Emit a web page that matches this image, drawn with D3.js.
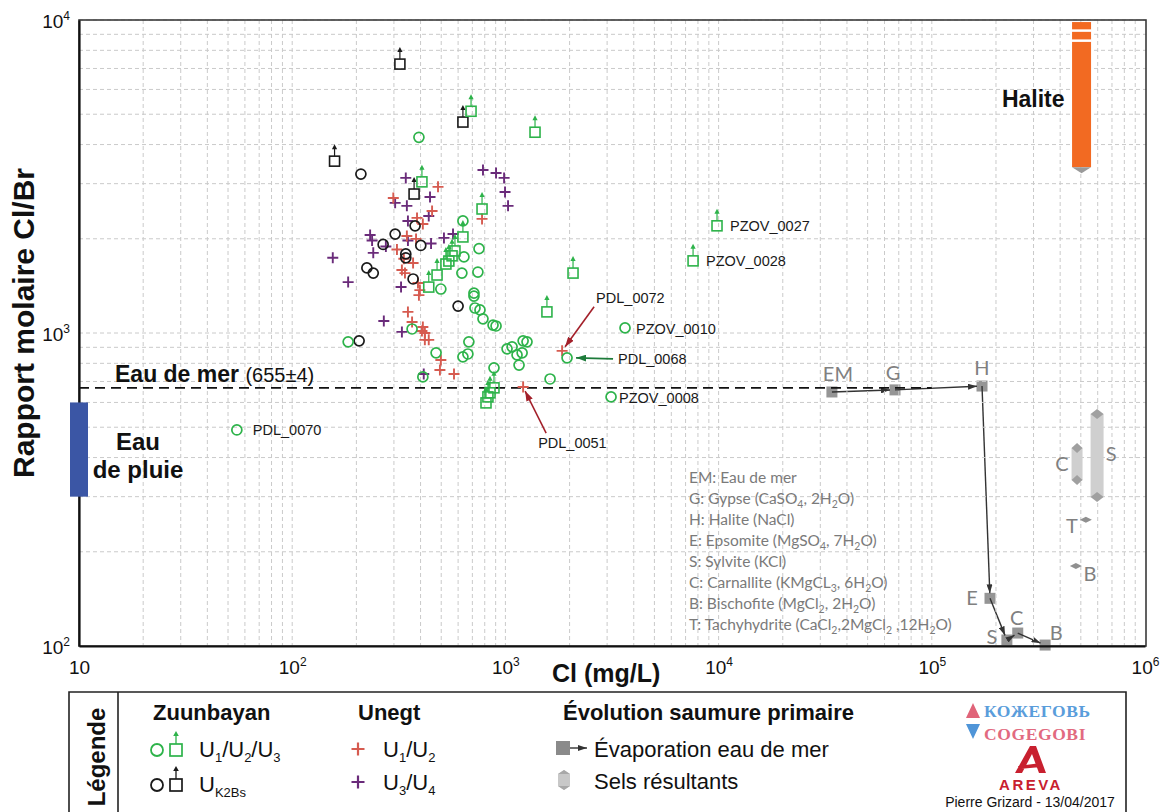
<!DOCTYPE html>
<html><head><meta charset="utf-8">
<script src="https://cdn.jsdelivr.net/npm/d3@7"></script>
<style>body{margin:0;background:#fff}svg{display:block}</style>
</head><body>
<svg id="c" width="1176" height="812"></svg>
<script>
// ---------- DATA (Cl mg/L, molar Cl/Br) ----------
const zuunCircles = [[393,4220],[632,2280],[752,1860],[639,1750],[625,1554],[743,1566],[498,1382],[712,1341],[712,1312],[720,1202],[760,1185],[785,1110],[875,1060],[904,1053],[365,1030],[674,937],[473,864],[632,839],[667,857],[884,774],[410,724],[1018,890],[1075,903],[1211,944],[1263,937],[1134,851],[1198,864],[1159,790],[1620,713],[183,937],[55,490],[1946,833],[3640,1038],[3130,625]];
const zuunSquares = [[690,5110],[1377,4380],[406,3040],[777,2490],[632,2027],[580,1829],[562,1764],[543,1698],[526,1661],[478,1532],[437,1402],[2076,1554],[1566,1168],[884,668],[847,644],[828,625],[811,598],[9830,2200],[7590,1700]];
const k2bsCircles = [[210,3220],[377,2200],[304,2070],[267,1918],[401,1904],[341,1789],[341,1739],[224,1614],[240,1554],[369,1488],[600,1219],[206,944]];
const k2bsSquares = [[320,7230],[158,3540],[632,4720],[373,2780]];
const unegtU12 = [[483,2930],[298,2700],[777,2315],[453,2454],[385,2332],[410,2230],[345,2042],[381,1998],[310,1849],[334,1726],[369,1674],[327,1589],[338,1554],[389,1444],[397,1371],[393,1321],[349,1168],[365,1084],[410,1045],[406,1015],[419,1000],[419,951],[437,951],[498,820],[493,762],[574,740],[1845,877],[1211,672]];
const unegtU34 = [[341,3130],[785,3317],[904,3245],[986,3130],[996,2820],[1029,2548],[304,2605],[345,2548],[443,2719],[437,2365],[349,2280],[232,2057],[237,1975],[349,1975],[448,1932],[515,2013],[568,2072],[275,1890],[155,1739],[240,1803],[183,1454],[324,1402],[269,1092],[327,1008],[414,740]];
const namedNames = ["PZOV_0027","PZOV_0028","PZOV_0010","PZOV_0008","PDL_0068","PDL_0070","PDL_0072","PDL_0051"];
const namedCl    = [9830,7590,3640,3130,1946,55,1845,1211];
const namedRatio = [2200,1700,1038,625,833,490,877,672];
const seaWater = 668;
const rainRange = [300,600];
const haliteRange = [3388,9850];
const evoNames = ["EM","G","H","E","S","C","B"];
const evoCl    = [34000,67200,172000,187500,225000,253000,340000];
const evoRatio = [648,658,677,142,104.5,110,100.7];
const saltNames = ["C","S","T","B"];
const saltCl    = [480000,596000,528000,474000];
const saltLow   = [339,299,253,180];
const saltHigh  = [429,551,253,180];
const xTicks = [10,100,1000,10000,100000,1000000];
const yTicks = [100,1000,10000];
const evoLegend = [
  [["EM: Eau de mer"]],
  [["G: Gypse (CaSO"],["4",1],[", 2H"],["2",1],["O)"]],
  [["H: Halite (NaCl)"]],
  [["E: Epsomite (MgSO"],["4",1],[", 7H"],["2",1],["O)"]],
  [["S: Sylvite (KCl)"]],
  [["C: Carnallite (KMgCL"],["3",1],[", 6H"],["2",1],["O)"]],
  [["B: Bischofite (MgCl"],["2",1],[", 2H"],["2",1],["O)"]],
  [["T: Tachyhydrite (CaCl"],["2",1],[",2MgCl"],["2",1],[" ,12H"],["2",1],["O)"]]
];

// ---------- SETUP ----------
const F = "'Liberation Sans', Arial, sans-serif";
const FM = "Lato, 'Open Sans', sans-serif";
const GREEN="#2db34a", RED="#d65b50", PURPLE="#6a2b7a", BLK="#1a1a1a", GRAY="#8a8a8a";
const svg = d3.select("#c").attr("font-family",F);
const x = d3.scaleLog().domain([10,1e6]).range([79,1145]);
const y = d3.scaleLog().domain([100,1e4]).range([646,20]);

const defs = svg.append("defs");
function marker(id,color,w,h){
  defs.append("marker").attr("id",id).attr("viewBox",`0 0 ${w} ${h}`).attr("refX",w).attr("refY",h/2)
    .attr("markerWidth",w).attr("markerHeight",h).attr("markerUnits","userSpaceOnUse").attr("orient","auto")
    .append("path").attr("d",`M0,0L${w},${h/2}L0,${h}Z`).attr("fill",color);
}
marker("arD","#333",9,6); marker("arR","#a3202a",10,7); marker("arG","#1d7b3a",10,7);

// ---------- GRID ----------
const gx=[],gy=[];
for(let e=1;e<6;e++) for(let k=1;k<10;k++){ const v=k*Math.pow(10,e); if(v>10) gx.push(v); }
for(let e=2;e<4;e++) for(let k=1;k<10;k++){ const v=k*Math.pow(10,e); if(v>100) gy.push(v); }
gy.push(1e4);
const grid = svg.append("g").attr("stroke","#cacaca").attr("stroke-width",1).attr("stroke-dasharray","4,3");
grid.selectAll(null).data(gx).join("line").attr("x1",d=>x(d)).attr("x2",d=>x(d)).attr("y1",20).attr("y2",646);
grid.selectAll(null).data(gy).join("line").attr("y1",d=>y(d)).attr("y2",d=>y(d)).attr("x1",79).attr("x2",1146);

// frame
svg.append("rect").attr("x",79).attr("y",20).attr("width",1067).attr("height",626).attr("fill","none").attr("stroke","#3a3a3a").attr("stroke-width",1.6);

// ---------- AXES ----------
function supText(sel){
  sel.each(function(d){
    const t=d3.select(this); const e=Math.round(Math.log10(d));
    t.text(null);
    t.append("tspan").text("10");
    if(e!==1) t.append("tspan").attr("dy",-8).attr("font-size",12).text(e);
  });
}
const xa = svg.append("g").attr("transform","translate(0,646)")
  .call(d3.axisBottom(x).tickValues(xTicks).tickSize(0).tickSizeOuter(0).tickFormat(d=>d));
xa.select(".domain").attr("stroke","#111").attr("stroke-width",2.2);
xa.selectAll(".tick text").attr("y",28).attr("dy",0).attr("font-size",19).attr("font-family",F).attr("fill","#111").call(supText);
const ya = svg.append("g").attr("transform","translate(79,0)")
  .call(d3.axisLeft(y).tickValues(yTicks).tickSize(0).tickSizeOuter(0).tickFormat(d=>d));
ya.select(".domain").attr("stroke","#111").attr("stroke-width",2.2);
ya.selectAll(".tick text").attr("x",-9).attr("dy",7).attr("font-size",19).attr("font-family",F).attr("fill","#111").call(supText);

svg.append("text").attr("x",552).attr("y",682).attr("font-size",25).attr("font-weight","bold").attr("fill","#111").text("Cl (mg/L)");
svg.append("text").attr("transform","translate(34,323) rotate(-90)").attr("text-anchor","middle")
  .attr("font-size",30).attr("font-weight","bold").attr("fill","#111").text("Rapport molaire Cl/Br");

// ---------- SEA WATER / RAIN / HALITE ----------
svg.append("line").attr("x1",x(10)).attr("x2",x(1e5)).attr("y1",y(seaWater)).attr("y2",y(seaWater))
  .attr("stroke","#111").attr("stroke-width",1.6).attr("stroke-dasharray","10,6");
const sw = svg.append("text").attr("x",115).attr("y",y(seaWater)-6).attr("fill","#111");
sw.append("tspan").attr("font-size",23).attr("font-weight","bold").text("Eau de mer ");
sw.append("tspan").attr("font-size",20).text("(655±4)");

svg.append("rect").attr("x",x(10)-9).attr("width",18).attr("y",y(rainRange[1])).attr("height",y(rainRange[0])-y(rainRange[1])).attr("fill","#3b56a5");
svg.append("text").attr("x",138).attr("y",450).attr("text-anchor","middle").attr("font-size",24).attr("font-weight","bold").attr("fill","#111").text("Eau");
svg.append("text").attr("x",138).attr("y",478).attr("text-anchor","middle").attr("font-size",24).attr("font-weight","bold").attr("fill","#111").text("de pluie");

const hx = x(504000);
svg.append("rect").attr("x",hx-9.5).attr("width",19).attr("y",y(haliteRange[1])).attr("height",y(haliteRange[0])-y(haliteRange[1])).attr("fill","#f26a22");
svg.append("path").attr("d",`M${hx-9.5},${y(haliteRange[0])}L${hx},${y(haliteRange[0])+6}L${hx+9.5},${y(haliteRange[0])}Z`).attr("fill","#9a9a9a");
[9250,8590].forEach(v=>svg.append("line").attr("x1",hx-10).attr("x2",hx+10).attr("y1",y(v)).attr("y2",y(v)).attr("stroke","#fff").attr("stroke-width",2.5));
svg.append("text").attr("x",hx-17).attr("y",107).attr("text-anchor","end").attr("font-size",23).attr("font-weight","bold").attr("fill","#111").text("Halite");

// ---------- EVOLUTION ----------
const evo = evoNames.map((n,i)=>({n,px:x(evoCl[i]),py:y(evoRatio[i])}));
const eg = svg.append("g");
for(let i=0;i<evo.length-1;i++){
  const a=evo[i], b=evo[i+1];
  const dx=b.px-a.px, dy=b.py-a.py, L=Math.hypot(dx,dy), s=Math.min(5, L*0.3);
  eg.append("line").attr("x1",a.px).attr("y1",a.py).attr("x2",b.px-dx/L*s).attr("y2",b.py-dy/L*s)
    .attr("stroke","#333").attr("stroke-width",1.4).attr("marker-end","url(#arD)");
}
eg.selectAll("rect").data(evo).join("rect").attr("x",d=>d.px-5.5).attr("y",d=>d.py-5.5).attr("width",11).attr("height",11).attr("fill",GRAY).attr("opacity",0.9).lower();
eg.lower();
const evoLab = {EM:[6,-11,"middle"],G:[-2,-10,"middle"],H:[0,-11,"middle"],E:[-18,7,"middle"],S:[-15,4,"middle"],C:[-1,-8,"middle"],B:[11,-5,"middle"]};
evo.forEach(d=>{ const o=evoLab[d.n];
  svg.append("text").attr("x",d.px+o[0]).attr("y",d.py+o[1]).attr("text-anchor",o[2]).attr("font-family",FM).attr("font-size",20).attr("fill","#808080").text(d.n); });

// salts
const sg = svg.append("g");
saltNames.forEach((n,i)=>{
  const cx=x(saltCl[i]), y1=y(saltHigh[i]), y2=y(saltLow[i]);
  if(saltLow[i]!==saltHigh[i]){
    const w = n==="S"?13:11;
    sg.append("rect").attr("x",cx-w/2).attr("width",w).attr("y",y1).attr("height",y2-y1).attr("fill","#cfcfcf");
    sg.append("path").attr("d",`M${cx-w/2},${y1}L${cx},${y1-5}L${cx+w/2},${y1}L${cx},${y1+5}Z`).attr("fill","#a0a0a0");
    sg.append("path").attr("d",`M${cx-w/2},${y2}L${cx},${y2-5}L${cx+w/2},${y2}L${cx},${y2+5}Z`).attr("fill","#a0a0a0");
  } else {
    sg.append("path").attr("d",`M${cx-6},${y1}L${cx},${y1-3}L${cx+6},${y1}L${cx},${y1+3}Z`).attr("fill","#909090");
  }
});
const saltLab = {C:[-15,0,"middle"],S:[14,-2,"middle"],T:[-14,6,"middle"],B:[14,8,"middle"]};
saltNames.forEach((n,i)=>{ const o=saltLab[n]; const cx=x(saltCl[i]); const cy=(y(saltHigh[i])+y(saltLow[i]))/2;
  svg.append("text").attr("x",cx+o[0]).attr("y",cy+o[1]+7).attr("text-anchor",o[2]).attr("font-family",FM).attr("font-size",20).attr("fill","#808080").text(n); });

// list of minerals
const lt = svg.append("g").attr("font-family",FM).attr("font-size",15.5).attr("fill","#7a7a7a");
evoLegend.forEach((parts,i)=>{
  const t=lt.append("text").attr("x",689).attr("y",483+i*21);
  let shifted=false;
  parts.forEach(p=>{
    const ts=t.append("tspan").text(p[0]);
    if(p[1]){ ts.attr("dy",4).attr("font-size",10.5); shifted=true; }
    else if(shifted){ ts.attr("dy",-4); shifted=false; }
  });
});

// ---------- DATA POINTS ----------
const gp = svg.append("g");
function plus(data,color){
  gp.selectAll(null).data(data).join("path").attr("transform",d=>`translate(${x(d[0])},${y(d[1])})`)
    .attr("d","M-5.5,0H5.5M0,-5.5V5.5").attr("stroke",color).attr("stroke-width",1.9).attr("fill","none");
}
function circ(data,color){
  gp.selectAll(null).data(data).join("circle").attr("cx",d=>x(d[0])).attr("cy",d=>y(d[1])).attr("r",5)
    .attr("fill","none").attr("stroke",color).attr("stroke-width",1.7);
}
function sq(data,color){
  const g=gp.selectAll(null).data(data).join("g").attr("transform",d=>`translate(${x(d[0])},${y(d[1])})`);
  g.append("rect").attr("x",-5).attr("y",-5).attr("width",10).attr("height",10).attr("fill","none").attr("stroke",color).attr("stroke-width",1.6);
  g.append("line").attr("x1",0).attr("x2",0).attr("y1",-5).attr("y2",-13).attr("stroke",color).attr("stroke-width",1.2);
  g.append("path").attr("d","M-2.6,-12L0,-17L2.6,-12Z").attr("fill",color);
}
plus(unegtU34,PURPLE);
plus(unegtU12,RED);
circ(k2bsCircles,BLK);
sq(k2bsSquares,BLK);
circ(zuunCircles,GREEN);
sq(zuunSquares,GREEN);

// labels of named samples
const labPos = {
  PZOV_0027:{dx:13,dy:5}, PZOV_0028:{dx:13,dy:5}, PZOV_0010:{dx:11,dy:6}, PZOV_0008:{dx:8,dy:6},
  PDL_0068:{dx:51,dy:6,ax:[46,1],bx:[9,0],m:"arG",c:"#1d7b3a"},
  PDL_0070:{dx:16,dy:5},
  PDL_0072:{dx:34,dy:-48,ax:[32,-44],bx:[3,-4],m:"arR",c:"#a3202a"},
  PDL_0051:{dx:15,dy:61,ax:[23,46],bx:[2,4],m:"arR",c:"#a3202a"}
};
namedNames.forEach((n,i)=>{
  const px=x(namedCl[i]), py=y(namedRatio[i]), o=labPos[n];
  if(o.ax) svg.append("line").attr("x1",px+o.ax[0]).attr("y1",py+o.ax[1]).attr("x2",px+o.bx[0]).attr("y2",py+o.bx[1])
    .attr("stroke",o.c).attr("stroke-width",1.6).attr("marker-end",`url(#${o.m})`);
  svg.append("text").attr("x",px+o.dx).attr("y",py+o.dy).attr("font-size",14.5).attr("fill","#1a1a1a").text(n);
});

// ---------- LEGEND ----------
const lg = svg.append("g");
lg.append("path").attr("d","M69,812V692H1126V812").attr("fill","none").attr("stroke","#222").attr("stroke-width",1.6);
lg.append("line").attr("x1",118).attr("x2",118).attr("y1",692).attr("y2",812).attr("stroke","#222").attr("stroke-width",1.6);
lg.append("text").attr("transform","translate(105,757) rotate(-90)").attr("text-anchor","middle").attr("font-size",24).attr("font-weight","bold").attr("fill","#111").text("Légende");

function txt(xp,yp,size,bold){ return lg.append("text").attr("x",xp).attr("y",yp).attr("font-size",size).attr("font-weight",bold?"bold":"normal").attr("fill","#111"); }
function subLabel(t,parts){ let sh=false; parts.forEach(p=>{ const s=t.append("tspan").text(p[0]); if(p[1]){s.attr("dy",5).attr("font-size",13);sh=true;} else if(sh){s.attr("dy",-5);sh=false;} }); }
txt(153,720,22,true).text("Zuunbayan");
txt(358,720,22,true).text("Unegt");
txt(563,720,22,true).text("Évolution saumure primaire");

function lgCirc(cx,cy,c){ lg.append("circle").attr("cx",cx).attr("cy",cy).attr("r",6).attr("fill","none").attr("stroke",c).attr("stroke-width",1.8); }
function lgSq(cx,cy,c){ lg.append("rect").attr("x",cx-6).attr("y",cy-6).attr("width",12).attr("height",12).attr("fill","none").attr("stroke",c).attr("stroke-width",1.7);
  lg.append("line").attr("x1",cx).attr("x2",cx).attr("y1",cy-6).attr("y2",cy-15).attr("stroke",c).attr("stroke-width",1.3);
  lg.append("path").attr("d",`M${cx-2.8},${cy-14}L${cx},${cy-19}L${cx+2.8},${cy-14}Z`).attr("fill",c); }
function lgPlus(cx,cy,c){ lg.append("path").attr("d",`M${cx-6.5},${cy}H${cx+6.5}M${cx},${cy-6.5}V${cy+6.5}`).attr("stroke",c).attr("stroke-width",2.2); }
lgCirc(157,750,GREEN); lgSq(176,750,GREEN);
subLabel(txt(199,757,22,false),[["U"],["1",1],["/U"],["2",1],["/U"],["3",1]]);
lgCirc(157,785,BLK); lgSq(176,785,BLK);
subLabel(txt(199,792,22,false),[["U"],["K2Bs",1]]);
lgPlus(358,749,RED);
subLabel(txt(383,757,22,false),[["U"],["1",1],["/U"],["2",1]]);
lgPlus(358,782,PURPLE);
subLabel(txt(383,790,22,false),[["U"],["3",1],["/U"],["4",1]]);

lg.append("rect").attr("x",556).attr("y",741).attr("width",14).attr("height",14).attr("fill","#8a8a8a");
lg.append("line").attr("x1",570).attr("x2",587).attr("y1",748).attr("y2",748).attr("stroke","#333").attr("stroke-width",1.4).attr("marker-end","url(#arD)");
txt(594,757,22,false).text("Évaporation eau de mer");
lg.append("path").attr("d","M558,774L564,770L570,774V786L564,790L558,786Z").attr("fill","#c8c8c8");
lg.append("path").attr("d","M558,774L564,770L570,774Z M558,786L564,790L570,786Z").attr("fill","#a8a8a8");
txt(594,789,22,false).text("Sels résultants");

// logos
lg.append("path").attr("d","M966,718L973,703L980,718Z").attr("fill","#e06479");
lg.append("path").attr("d","M966,724L980,724L973,739Z").attr("fill","#4f95d8");
lg.append("text").attr("x",984).attr("y",717).attr("font-family","'Liberation Serif', serif").attr("font-weight","bold").attr("font-size",17.5).attr("letter-spacing",0.6).attr("fill","#5a9ddb").text("КОЖЕГОВЬ");
lg.append("text").attr("x",984).attr("y",740).attr("font-family","'Liberation Serif', serif").attr("font-weight","bold").attr("font-size",17.5).attr("letter-spacing",0.6).attr("fill","#e26a80").text("COGEGOBI");
lg.append("path").attr("d","M1015,773L1030,746L1036,746L1046,773L1039,773L1032,754L1022,773Z M1018,766L1041,763L1041,767L1019,769Z").attr("fill","#c8202f");
lg.append("text").attr("x",1031).attr("y",790).attr("text-anchor","middle").attr("font-size",15).attr("font-weight","bold").attr("letter-spacing",2.5).attr("fill","#c8202f").text("AREVA");
lg.append("text").attr("x",1030).attr("y",807).attr("text-anchor","middle").attr("font-size",14).attr("fill","#111").text("Pierre Grizard - 13/04/2017");
</script>
</body></html>
